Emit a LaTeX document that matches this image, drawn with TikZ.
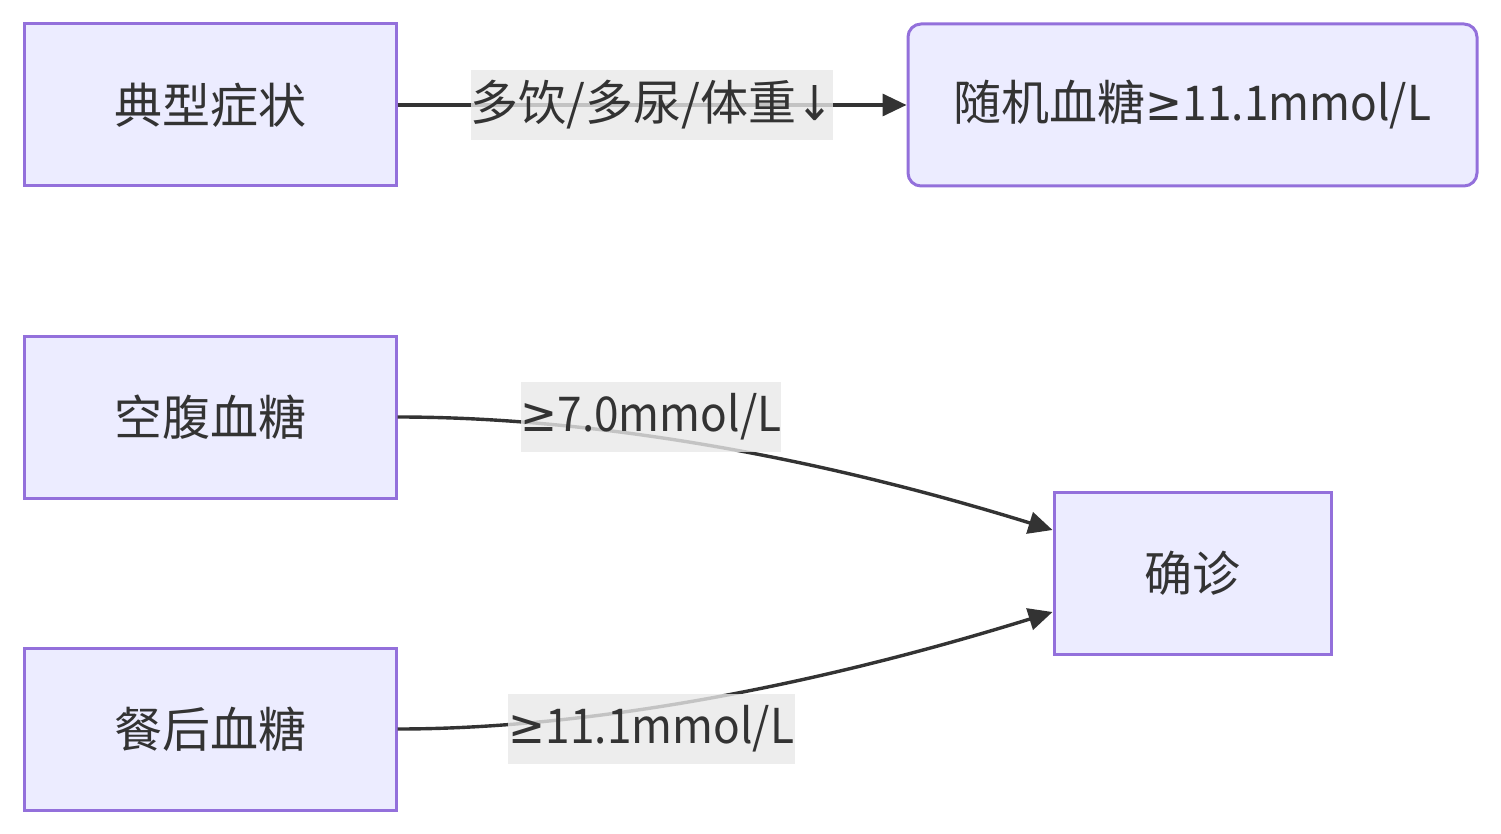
\documentclass[tikz,border=0pt]{standalone}
\usepackage{fontspec}
\setmainfont{Noto Sans CJK SC}
\newfontfamily\symfont[FakeStretch=0.92]{DejaVu Sans}
\newfontfamily\latfont[FakeStretch=0.92]{Noto Sans CJK SC}
\newcommand{\mygeq}{{\symfont ≥}}
\newcommand{\mydarrow}{{\symfont ↓}}
\usetikzlibrary{arrows.meta}
\definecolor{nodefill}{HTML}{ECECFF}
\definecolor{nodeline}{HTML}{9370DB}
\definecolor{ink}{HTML}{333333}
\definecolor{lblbg}{HTML}{E8E8E8}
\tikzset{
  box/.style={draw=nodeline, fill=nodefill, line width=3pt, text=ink,
    minimum height=162pt, inner sep=0pt, font=\fontsize{48}{56}\selectfont},
  edge/.style={draw=ink, line width=3.4pt, -{Triangle[length=24pt,width=22pt]}},
  lbl/.style={fill=lblbg, fill opacity=0.8, text opacity=1, text=ink,
    minimum height=70pt, inner xsep=0pt, inner ysep=0pt, font=\fontsize{48}{56}\selectfont}
}
\begin{document}
\begin{tikzpicture}[x=1pt, y=-1pt]
\useasboundingbox (0,0) rectangle (1501,834);
\node[box, minimum width=372pt] (dx) at (210,105) {典型症状};
\node[box, minimum width=569pt, rounded corners=13pt] (sj) at (1192.5,105) {随机血糖{\latfont\mygeq11.1mmol/L}};
\node[box, minimum width=372pt] (kf) at (210,417) {空腹血糖};
\node[box, minimum width=372pt] (ch) at (210,729) {餐后血糖};
\node[box, minimum width=277pt] (qz) at (1192.5,573) {确诊};
\draw[edge] (dx) -- node[lbl, minimum width=362pt] (l1) {多饮/多尿/体重\mydarrow} (sj);
\draw[edge] (kf.east) .. controls +(164,0) and +(-274,-85) .. ([yshift=43pt]qz.west);
\draw[edge] (ch.east) .. controls +(164,0) and +(-274,85) .. ([yshift=-39pt]qz.west);
\node[lbl, minimum width=260pt] (l2) at (651,417) {\latfont\mygeq7.0mmol/L};
\node[lbl, minimum width=287pt] (l3) at (651.5,729) {\latfont\mygeq11.1mmol/L};
\end{tikzpicture}
\end{document}
